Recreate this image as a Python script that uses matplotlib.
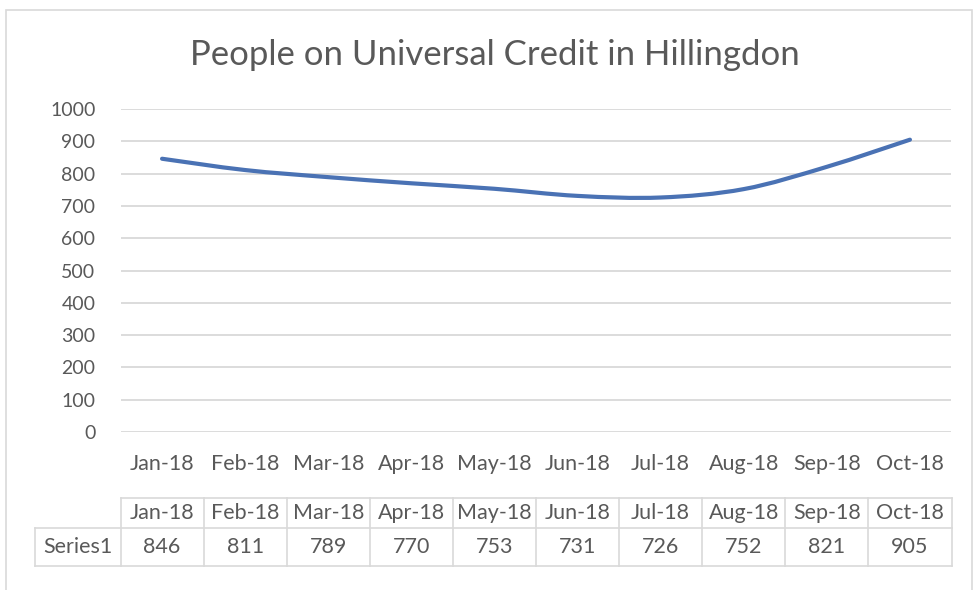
import matplotlib; matplotlib.use("Agg")
import matplotlib.pyplot as plt
from matplotlib.path import Path
from matplotlib.patches import PathPatch, Rectangle
from matplotlib.transforms import blended_transform_factory

months=["Jan-18","Feb-18","Mar-18","Apr-18","May-18","Jun-18","Jul-18","Aug-18","Sep-18","Oct-18"]
people=[846,811,789,770,753,731,726,752,821,905]
yticks=[0,100,200,300,400,500,600,700,800,900,1000]
series_name="Series1"
title="People on Universal Credit in Hillingdon"

GREY="#595959"; GRID="#d9d9d9"; BLUE="#4a72b4"
plt.rcParams["font.family"]=["Lato","DejaVu Sans"]

W,H=976,590
fig=plt.figure(figsize=(W/100,H/100),dpi=100)
fig.patches.append(Rectangle((6/W,-0.1),966/W,1.1-10/H,transform=fig.transFigure,fill=False,edgecolor=GRID,lw=1.2))
ax=fig.add_axes([120.5/W,(H-432)/H,831/W,323/H])
ax.set_xlim(-0.5,len(months)-0.5); ax.set_ylim(0,1000)
ax.set_yticks(yticks); ax.set_yticklabels([str(v) for v in yticks])
ax.set_xticks(range(len(months))); ax.set_xticklabels(months)
ax.tick_params(length=0,labelsize=14,colors=GREY)
ax.tick_params(axis="x",labelsize=15.5,pad=16); ax.tick_params(axis="y",pad=18)
for s in ax.spines.values(): s.set_visible(False)
ax.grid(axis="y",color=GRID,lw=1.3); ax.set_axisbelow(True)

# smoothed line (Excel-style bezier through each point)
pts=list(zip(range(len(people)),people))
verts=[pts[0]]; codes=[Path.MOVETO]
for i in range(len(pts)-1):
    p0=pts[max(i-1,0)]; p1=pts[i]; p2=pts[i+1]; p3=pts[min(i+2,len(pts)-1)]
    c1=(p1[0]+(p2[0]-p0[0])/6,p1[1]+(p2[1]-p0[1])/6)
    c2=(p2[0]-(p3[0]-p1[0])/6,p2[1]-(p3[1]-p1[1])/6)
    verts+=[c1,c2,p2]; codes+=[Path.CURVE4]*3
ax.add_patch(PathPatch(Path(verts,codes),fill=False,edgecolor=BLUE,lw=3,capstyle="round",joinstyle="round"))

fig.text(495/W,1-55/H,title,ha="center",va="center",fontsize=25,color=GREY)

# data table under the axis
tr=blended_transform_factory(ax.transData,ax.transAxes)
ytop,ymid,ybot=-0.204,-0.297,-0.416
n=len(months); xl=-1.53
kw=dict(transform=tr,clip_on=False,color=GRID,lw=1.2)
ax.plot([-0.5,n-0.5],[ytop,ytop],**kw)
ax.plot([xl,n-0.5],[ymid,ymid],**kw)
ax.plot([xl,n-0.5],[ybot,ybot],**kw)
ax.plot([xl,xl],[ymid,ybot],**kw)
for i in range(n+1):
    ax.plot([i-0.5,i-0.5],[ytop,ybot],**kw)
for i,(m,v) in enumerate(zip(months,people)):
    ax.text(i,(ytop+ymid)/2,m,transform=tr,ha="center",va="center",fontsize=15.5,color=GREY)
    ax.text(i,(ymid+ybot)/2,str(v),transform=tr,ha="center",va="center",fontsize=15.5,color=GREY)
ax.text((xl-0.5)/2,(ymid+ybot)/2,series_name,transform=tr,ha="center",va="center",fontsize=15.5,color=GREY)

fig.savefig("out.png",dpi=100)
